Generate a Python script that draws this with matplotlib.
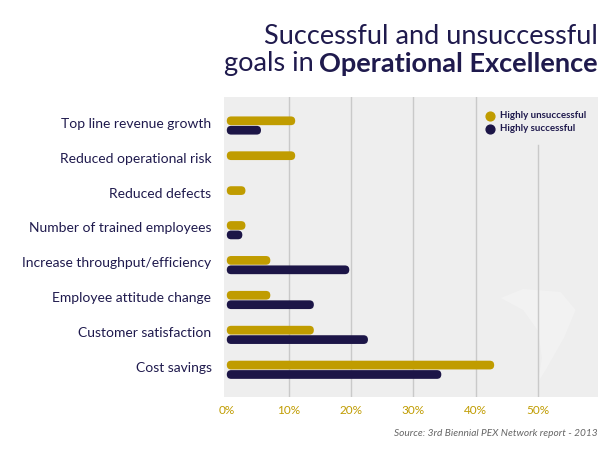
import matplotlib
matplotlib.use("Agg")
import matplotlib.pyplot as plt
from matplotlib.patches import FancyBboxPatch, Polygon
import matplotlib.transforms as mtransforms
import numpy as np

plt.rcParams['font.family'] = ['Lato', 'DejaVu Sans']

categories = ["Top line revenue growth", "Reduced operational risk", "Reduced defects",
              "Number of trained employees", "Increase throughput/efficiency",
              "Employee attitude change", "Customer satisfaction", "Cost savings"]
unsuccessful = [11, 11, 3, 3, 7, 7, 14, 43]
successful = [5.5, 0, 0, 2.5, 19.7, 14, 22.7, 34.5]
series_names = ["Highly unsuccessful", "Highly successful"]
xticks = [0, 10, 20, 30, 40, 50]
xticklabels = ["0%", "10%", "20%", "30%", "40%", "50%"]

GOLD = "#c09c00"
NAVY = "#1c1547"
PANEL = "#eeeeee"
GRID = "#c9c9c9"
TEXT = "#1f1a4d"

W, H = 600, 449
fig = plt.figure(figsize=(W / 100, H / 100), dpi=100)
ax = fig.add_axes([224 / W, 1 - 397 / H, (598 - 224) / W, (397 - 97) / H])
ax.set_facecolor(PANEL)
for s in ax.spines.values():
    s.set_visible(False)

ax.set_xlim(-0.45, 59.7)
ax.set_ylim(7.78, -0.817)

# gridlines
for t in xticks[1:]:
    top = 1.0 if t < 50 else 1 - (145 - 97) / 300
    ax.axvline(t, ymin=0, ymax=top, color=GRID, lw=1, zorder=1)

# faint watermark-like shape
wm = Polygon([(0.74, 0.33), (0.80, 0.36), (0.90, 0.35), (0.94, 0.29), (0.91, 0.20),
              (0.86, 0.09), (0.84, 0.05), (0.85, 0.13), (0.84, 0.22), (0.80, 0.29)],
             closed=True, transform=ax.transAxes, facecolor="white", alpha=0.25,
             edgecolor="none", zorder=0.5)
ax.add_patch(wm)

y = np.arange(len(categories))
h = 0.25
off = 0.135
bars_u = ax.barh(y - off, unsuccessful, height=h, color=GOLD, zorder=2)
bars_s = ax.barh(y + off, successful, height=h, color=NAVY, zorder=2)

fig.canvas.draw()
px_per_x = ax.transData.transform((1, 0))[0] - ax.transData.transform((0, 0))[0]
px_per_y = abs(ax.transData.transform((0, 1))[1] - ax.transData.transform((0, 0))[1])
for bars in (bars_u, bars_s):
    for r in bars:
        w = r.get_width()
        r.set_visible(False)
        if w <= 0:
            continue
        rad_x = (h / 2) * px_per_y / px_per_x
        p = FancyBboxPatch((r.get_x(), r.get_y()), w, r.get_height(),
                           boxstyle=f"round,pad=0,rounding_size={rad_x}",
                           facecolor=r.get_facecolor(), edgecolor="none", zorder=2)
        p.set_mutation_aspect(px_per_x / px_per_y)
        ax.add_patch(p)

ax.set_yticks(y)
ax.set_yticklabels(categories, fontsize=10, color=TEXT)
ax.tick_params(axis='y', length=0, pad=9)
shift = mtransforms.ScaledTranslation(0, 2 / 72, fig.dpi_scale_trans)
for lab in ax.get_yticklabels():
    lab.set_transform(lab.get_transform() + shift)
ax.set_xticks(xticks)
ax.set_xticklabels(xticklabels, fontsize=8.5, color=GOLD)
ax.tick_params(axis='x', length=0, pad=6)

# legend
lx, ly = 0.712, 0.937
for i, (name, c) in enumerate(zip(series_names, [GOLD, NAVY])):
    yy = ly - i * 0.043
    ax.scatter([lx], [yy], transform=ax.transAxes, s=40, color=c, marker='o', zorder=5)
    ax.text(lx + 0.025, yy, name, transform=ax.transAxes, fontsize=7, fontweight='bold',
            color=TEXT, va='center', ha='left')

fig.text(598 / W, 1 - 36 / H, "Successful and unsuccessful", ha='right', va='center',
         fontsize=19.5, color=TEXT)
tb = fig.text(598 / W, 1 - 64 / H, "Operational Excellence", ha='right', va='center',
              fontsize=19.5, fontweight='bold', color=TEXT)
fig.canvas.draw()
bb = tb.get_window_extent(renderer=fig.canvas.get_renderer())
fig.text((bb.x0 - 6) / W, 1 - 64 / H, "goals in", ha='right', va='center',
         fontsize=19.5, color=TEXT)
fig.text(598 / W, 1 - 433 / H, "Source: 3rd Biennial PEX Network report - 2013", ha='right',
         va='center', fontsize=7.3, style='italic', color="#666666")

fig.savefig("out.png", dpi=100)
